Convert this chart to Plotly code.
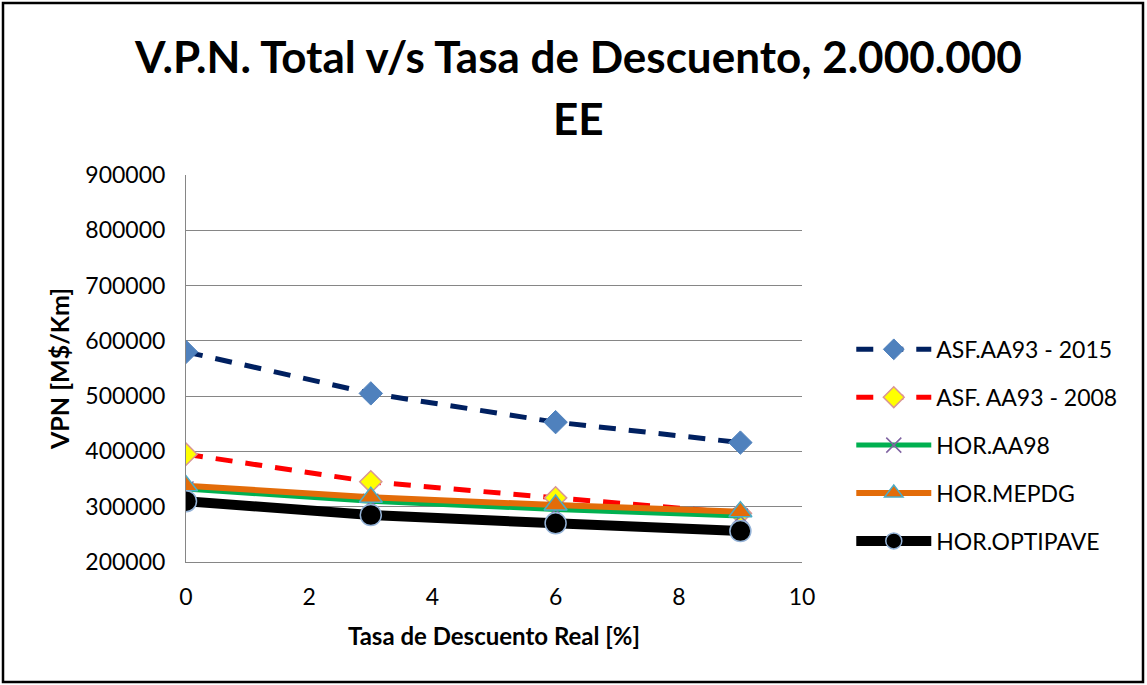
import plotly.graph_objects as go

# Tasa de descuento real [%]
tasas = [0, 3, 6, 9]

# V.P.N. total [M$/Km] por alternativa
asf_aa93_2015 = [580000, 505000, 453000, 416000]
asf_aa93_2008 = [395000, 345000, 316000, 288000]
hor_aa98 = [332000, 310000, 295000, 283000]
hor_mepdg = [338000, 317000, 303000, 291000]
hor_optipave = [310000, 285000, 270000, 256000]

x_ticks = [0, 2, 4, 6, 8, 10]
y_ticks = [200000, 300000, 400000, 500000, 600000, 700000, 800000, 900000]

title_lines = ["V.P.N. Total v/s Tasa de Descuento, 2.000.000", "EE"]

FONT = "Lato"
W, H = 1147, 685
ML, MR, MT, MB = 186, 345, 175, 123
pw = W - ML - MR
ph = H - MT - MB


def py(pix):
    """Paper y coordinate for a pixel row measured from the top."""
    return 1 + (MT - pix) / ph


fig = go.Figure()

fig.add_trace(go.Scatter(
    x=tasas, y=asf_aa93_2015, name="ASF.AA93 - 2015", mode="lines+markers",
    line=dict(color="#002060", width=5, dash="17px,13px"),
    marker=dict(symbol="diamond", size=18, color="#4F81BD",
                line=dict(color="#4F81BD", width=1)),
    legendgroup="a",
))
fig.add_trace(go.Scatter(
    x=tasas, y=asf_aa93_2008, name="ASF. AA93 - 2008", mode="lines+markers",
    line=dict(color="#FF0000", width=5, dash="17px,13px"),
    marker=dict(symbol="diamond", size=17, color="#FFFF00",
                line=dict(color="#D99694", width=1.5)),
    legendgroup="b",
))
fig.add_trace(go.Scatter(
    x=tasas, y=hor_aa98, name="HOR.AA98", mode="lines+markers",
    line=dict(color="#00B050", width=5),
    marker=dict(symbol="x-thin", size=15, color="#8064A2",
                line=dict(color="#8064A2", width=1.5)),
    legendgroup="c",
))
fig.add_trace(go.Scatter(
    x=tasas, y=hor_mepdg, name="HOR.MEPDG", mode="lines+markers",
    line=dict(color="#E36C09", width=6),
    marker=dict(symbol="triangle-up", size=20, color="#E36C09",
                line=dict(color="#4BACC6", width=1.5)),
    legendgroup="d",
))
fig.add_trace(go.Scatter(
    x=tasas, y=hor_optipave, name="HOR.OPTIPAVE", mode="lines+markers",
    line=dict(color="#000000", width=10),
    marker=dict(symbol="circle", size=21, color="#000000",
                line=dict(color="#95B3D7", width=1.5)),
    legendgroup="e",
))

fig.update_layout(
    width=W, height=H,
    margin=dict(l=ML, r=MR, t=MT, b=MB),
    paper_bgcolor="white", plot_bgcolor="white",
    font=dict(family=FONT, size=23, color="#000000"),
    xaxis=dict(
        range=[0, 10], tickvals=x_ticks, showgrid=False, zeroline=False,
        showline=True, linecolor="#868686", linewidth=1,
        ticks="", ticklabelstandoff=14,
        tickfont=dict(family=FONT, size=23),
        title=dict(text="<b>Tasa de Descuento Real [%]</b>",
                   font=dict(family=FONT, size=24), standoff=19),
    ),
    yaxis=dict(
        range=[200000, 900000], tickvals=y_ticks, showgrid=True,
        gridcolor="#868686", gridwidth=1, zeroline=False,
        showline=True, linecolor="#868686", linewidth=1,
        ticks="", ticklabelstandoff=15, tickformat="d",
        tickfont=dict(family=FONT, size=23),
        title=dict(text="<b>VPN [M$/Km]</b>",
                   font=dict(family=FONT, size=25), standoff=8),
    ),
    legend=dict(
        x=1.08, xanchor="left", y=0.605, yanchor="top",
        font=dict(family=FONT, size=23), tracegroupgap=15,
        bgcolor="rgba(0,0,0,0)", itemwidth=75,
    ),
    annotations=[
        dict(text="<b>%s</b>" % title_lines[0], xref="paper", yref="paper",
             x=(578 - ML) / pw, y=py(56), xanchor="center", yanchor="middle",
             showarrow=False, font=dict(family=FONT, size=44)),
        dict(text="<b>%s</b>" % title_lines[1], xref="paper", yref="paper",
             x=(578 - ML) / pw, y=py(118), xanchor="center", yanchor="middle",
             showarrow=False, font=dict(family=FONT, size=44)),
    ],
    shapes=[dict(
        type="rect", xref="paper", yref="paper",
        x0=-(ML - 3) / pw, x1=1 + (MR - 4) / pw,
        y0=-(MB - 3) / ph, y1=1 + (MT - 3) / ph,
        line=dict(color="#000000", width=2.5), fillcolor="rgba(0,0,0,0)",
        layer="below",
    )],
)

fig.write_html("out.html")
